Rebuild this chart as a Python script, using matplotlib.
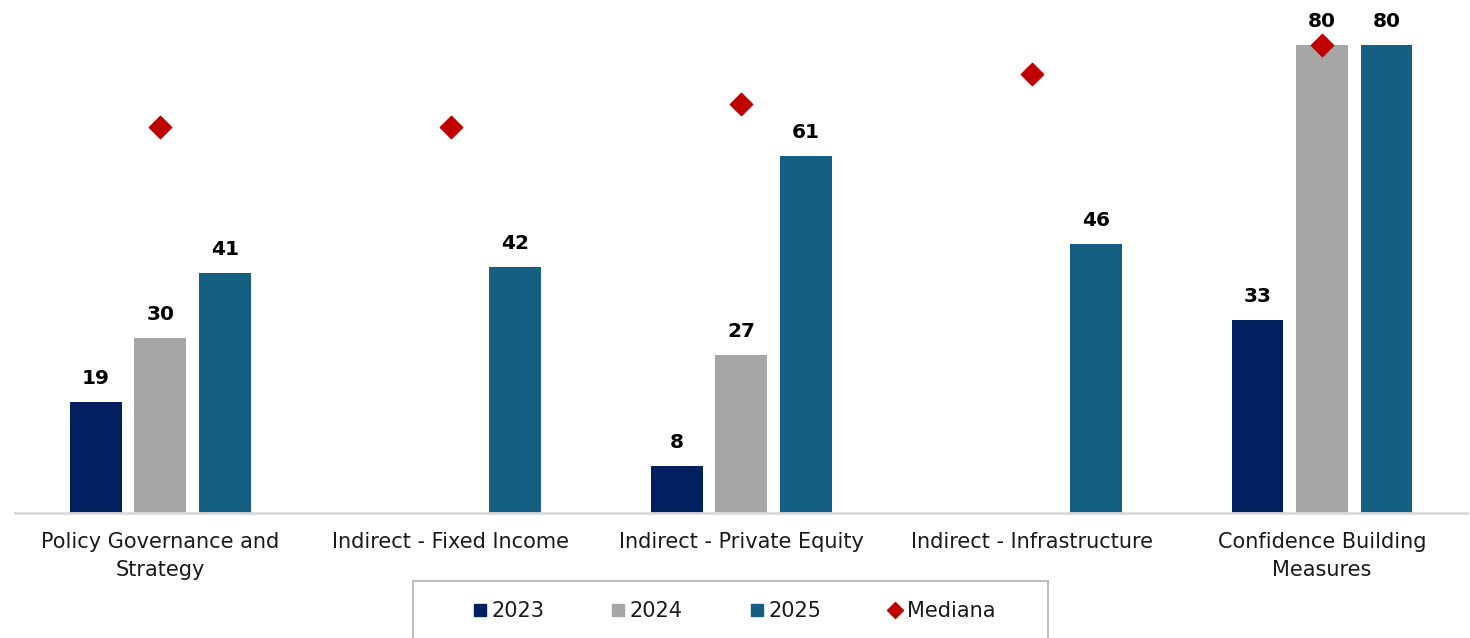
import matplotlib
matplotlib.use("Agg")
import matplotlib.pyplot as plt
from matplotlib.lines import Line2D
from matplotlib.patches import Rectangle
import numpy as np

plt.rcParams['font.family'] = ['DejaVu Sans']

categories = ['Policy Governance and\nStrategy', 'Indirect - Fixed Income',
              'Indirect - Private Equity', 'Indirect - Infrastructure',
              'Confidence Building\nMeasures']
years = ['2023', '2024', '2025']
vals_2023 = [19, None, 8, None, 33]
vals_2024 = [30, None, 27, None, 80]
vals_2025 = [41, 42, 61, 46, 80]
mediana = [66, 66, 70, 75, 80]

colors = ['#002060', '#A6A6A6', '#156082']
median_color = '#C00000'

fig = plt.figure(figsize=(14.7, 6.38), dpi=100)
ax = fig.add_axes([0.0102, 0.196, 0.988, 0.779])

x = np.arange(len(categories))
width = 0.178
offsets = [-0.222, 0, 0.222]

for series, off, col in zip([vals_2023, vals_2024, vals_2025], offsets, colors):
    for xi, v in zip(x, series):
        if v is None:
            continue
        ax.bar(xi + off, v, width=width, color=col, zorder=2)
        ax.text(xi + off, v + 2.4, str(v), ha='center', va='bottom',
                fontsize=14.5, fontweight='bold', color='black')

ax.scatter(x, mediana, marker='D', s=130, color=median_color, zorder=3)

ax.set_xlim(-0.5, len(categories) - 0.5)
ax.set_ylim(0, 85)
ax.set_yticks([])
ax.set_xticks(x)
ax.set_xticklabels(categories, fontsize=15, color='#1a1a1a', linespacing=1.5)
ax.tick_params(axis='x', length=0, pad=14)
for s in ['top', 'right', 'left']:
    ax.spines[s].set_visible(False)
ax.spines['bottom'].set_color('#D9D9D9')
ax.spines['bottom'].set_linewidth(2)

# legend box (runs past the bottom edge like the original)
fig.patches.append(Rectangle((413 / 1470, -0.01), (1048 - 413) / 1470, 1 - 581 / 638 + 0.01,
                             transform=fig.transFigure, fill=False,
                             edgecolor='#BFBFBF', linewidth=1.5))

handles = [Line2D([], [], marker='s', linestyle='', color=c, markersize=9) for c in colors]
handles.append(Line2D([], [], marker='D', linestyle='', color=median_color, markersize=8))
leg = fig.legend(handles, years + ['Mediana'], loc='center',
                 bbox_to_anchor=(735 / 1470, 1 - 611 / 638), ncol=4,
                 fontsize=15, frameon=False,
                 handlelength=0.5, handletextpad=0.3, columnspacing=3.3,
                 borderpad=0, borderaxespad=0)
for t in leg.get_texts():
    t.set_color('#1a1a1a')

fig.savefig('out.png', dpi=100)
